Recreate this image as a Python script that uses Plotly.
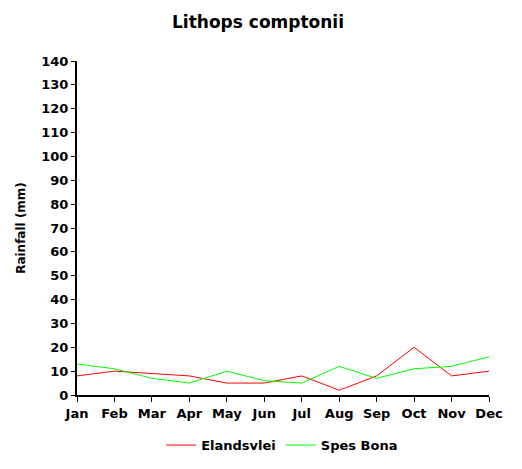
import plotly.graph_objects as go

months = ["Jan", "Feb", "Mar", "Apr", "May", "Jun",
          "Jul", "Aug", "Sep", "Oct", "Nov", "Dec"]
elandsvlei = [8, 10, 9, 8, 5, 5, 8, 2, 8, 20, 8, 10]
spes_bona = [13, 11, 7, 5, 10, 6, 5, 12, 7, 11, 12, 16]
y_ticks = list(range(0, 141, 10))

family = "DejaVu Sans, Verdana, sans-serif"

fig = go.Figure()
fig.add_trace(go.Scatter(
    x=months, y=elandsvlei, mode="lines", name="<b>Elandsvlei</b>",
    line=dict(color="#ff0000", width=1),
))
fig.add_trace(go.Scatter(
    x=months, y=spes_bona, mode="lines", name="<b>Spes Bona</b>",
    line=dict(color="#00ff00", width=1),
))

# the page body has an 8px margin, so margins are shifted to compensate
fig.update_layout(
    width=522,
    height=469,
    margin=dict(l=69, r=41, t=53, b=82, autoexpand=False),
    paper_bgcolor="white",
    plot_bgcolor="white",
    font=dict(family=family, size=13, color="black"),
    title=dict(
        text="<b>Lithops comptonii</b>",
        x=0.479, xanchor="center", y=0.970, yanchor="middle",
        font=dict(family=family, size=17, color="black"),
    ),
    xaxis=dict(
        type="category",
        range=[0, 11],
        showgrid=False,
        showline=True,
        linecolor="black",
        linewidth=2,
        ticks="outside",
        ticklen=5,
        tickcolor="black",
        tickvals=months,
        ticktext=[f"<b>{m}</b>" for m in months],
        zeroline=False,
        automargin=False,
    ),
    yaxis=dict(
        range=[0, 140],
        tickvals=y_ticks,
        ticktext=[f"<b>{v}</b>" for v in y_ticks],
        showgrid=False,
        showline=True,
        linecolor="black",
        linewidth=2,
        ticks="outside",
        ticklen=4,
        tickcolor="black",
        zeroline=False,
        automargin=False,
        title=dict(text="<b>Rainfall (mm)</b>", standoff=13,
                   font=dict(family=family, size=12)),
    ),
    legend=dict(
        orientation="h",
        x=0.498, xanchor="center",
        y=-0.15, yanchor="middle",
        font=dict(family=family, size=13),
        itemwidth=30,
    ),
    showlegend=True,
)

fig.write_html("out.html")
